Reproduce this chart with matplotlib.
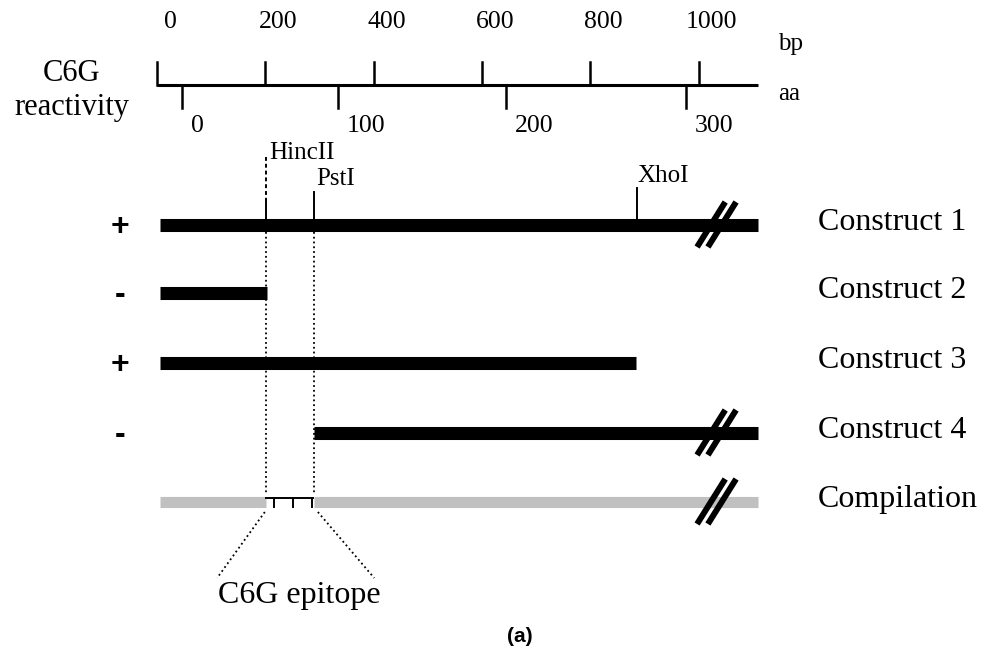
import numpy as np
import matplotlib.pyplot as plt

# escala en pares de bases (bp) y aminoacidos (aa)
bp_ticks = [0, 200, 400, 600, 800, 1000]
aa_labels = [0, 100, 200, 300]
aa_pos_bp = [46, 334, 644, 977]
seq_end = 1109

sitios = ["HincII", "PstI", "XhoI"]
sitios_bp = [201, 290, 886]

constructos = ["Construct 1", "Construct 2", "Construct 3", "Construct 4"]
inicio = [6, 6, 6, 290]
fin = [1109, 203, 884, 1109]
reactividad = ["+", "-", "+", "-"]

comp_tramos = [(6, 201), (290, 1109)]
epitopo = (201, 288)
epitopo_marcas = [216, 251, 286]

filas_y = [225, 293, 363, 433]
comp_y = 502

px = 0.5417  # pixeles por bp
fig = plt.figure(figsize=(9.82, 6.57), dpi=100)
ax = fig.add_axes([0, 0, 1, 1])
ax.set_xlim(-157 / px, (982 - 157) / px)
ax.set_ylim(657, 0)
ax.axis("off")

serif = "Liberation Serif"

# regla superior
ax.plot([0, seq_end], [85, 85], color="black", lw=2.2, solid_capstyle="butt")
for b in bp_ticks:
	ax.plot([b, b], [62, 85], color="black", lw=1.8)
	ax.text(b + 13 / px, 28, str(b), ha="center", va="baseline", fontsize=18.5, family=serif)
for lab, b in zip(aa_labels, aa_pos_bp):
	ax.plot([b, b], [85, 108], color="black", lw=1.8)
	ax.text(b + 9 / px, 132, str(lab), ha="left", va="baseline", fontsize=18.5, family=serif)
ax.text(1146, 50, "bp", ha="left", va="baseline", fontsize=18, family=serif)
ax.text(1146, 100, "aa", ha="left", va="baseline", fontsize=18, family=serif)
ax.text(-157, 81, "C6G", ha="center", va="baseline", fontsize=22, family=serif)
ax.text(-157, 115, "reactivity", ha="center", va="baseline", fontsize=22, family=serif)

# constructos
for i in range(len(constructos)):
	y = filas_y[i]
	ax.plot([inicio[i], fin[i]], [y, y], color="black", lw=9.4, solid_capstyle="butt")
	ax.text(-68, y + 2, reactividad[i], ha="center", va="center", fontsize=23,
		family="Liberation Sans", fontweight="bold")
	ax.text(1220, y - 3, constructos[i], ha="left", va="center", fontsize=23, family=serif)

# compilacion
for a, b in comp_tramos:
	ax.plot([a, b], [comp_y, comp_y], color="#c0c0c0", lw=8.0, solid_capstyle="butt")
ax.text(1220, comp_y - 3, "Compilation", ha="left", va="center", fontsize=23, family=serif)

# marcas de corte //
for y in [filas_y[0], filas_y[3], comp_y]:
	for dx in [0, 20]:
		ax.plot([997 + dx, 1049 + dx], [y + 22, y - 23], color="black", lw=4.3, solid_capstyle="butt")

# sitios de restriccion
ax.plot([sitios_bp[0], sitios_bp[0]], [157, 200], color="black", lw=1.4, ls=(0, (2, 1.5)))
ax.plot([sitios_bp[0], sitios_bp[0]], [200, 219], color="black", lw=1.4)
ax.plot([sitios_bp[1], sitios_bp[1]], [192, 219], color="black", lw=1.4)
ax.plot([sitios_bp[2], sitios_bp[2]], [188, 219], color="black", lw=1.4)
ax.text(sitios_bp[0] + 3 / px, 159, sitios[0], ha="left", va="baseline", fontsize=18, family=serif)
ax.text(sitios_bp[1] + 2 / px, 185, sitios[1], ha="left", va="baseline", fontsize=18, family=serif)
ax.text(sitios_bp[2] + 1 / px, 182, sitios[2], ha="left", va="baseline", fontsize=18, family=serif)

for b in sitios_bp[:2]:
	ax.plot([b, b], [232, 495], color="black", lw=1.3, ls=":")

# epitopo
ax.plot([epitopo[0], epitopo[1]], [498, 498], color="black", lw=1.4)
for b in epitopo_marcas:
	ax.plot([b, b], [498, 507], color="black", lw=1.4)
ax.plot([199, 111], [512, 578], color="black", lw=1.3, ls=":")
ax.plot([297, 401], [512, 578], color="black", lw=1.3, ls=":")
ax.text(262, 603, "C6G epitope", ha="center", va="baseline", fontsize=23, family=serif)

ax.text(670, 637, "(a)", ha="center", va="center", fontsize=15, family="Liberation Sans",
	fontweight="bold")

plt.savefig("out.png", dpi=100)
